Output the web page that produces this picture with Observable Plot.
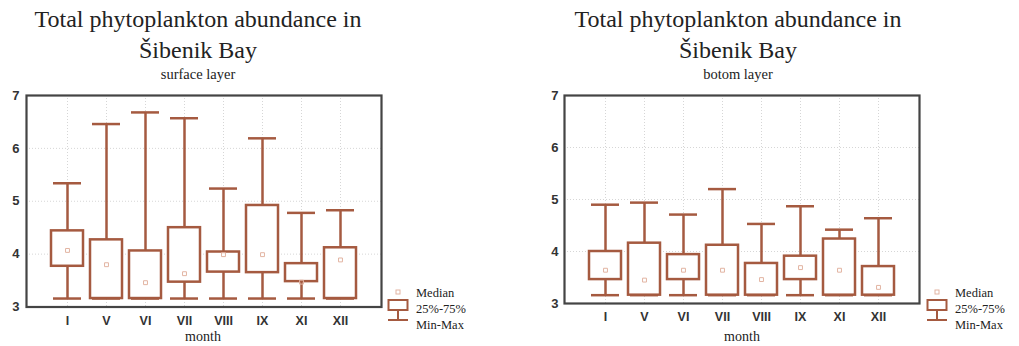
<!DOCTYPE html>
<html>
<head>
<meta charset="utf-8">
<script src="https://cdn.jsdelivr.net/npm/d3@7"></script>
<script src="https://cdn.jsdelivr.net/npm/@observablehq/plot@0.6"></script>
<style>
  html, body { margin: 0; padding: 0; background: #fff; }
  #wrap { position: relative; width: 1019px; height: 346px; overflow: hidden; background: #fff; }
  .t { position: absolute; font-family: "Liberation Serif", "Times New Roman", serif; color: #222; text-align: center; white-space: nowrap; }
  .title { font-size: 24px; line-height: 33px; }
  .sub { font-size: 14.5px; }
  .xl { font-size: 14px; line-height: 14px; }
  .leg { position: absolute; overflow: visible; }
  .leg text { font-family: "Liberation Serif", "Times New Roman", serif; font-size: 12.5px; fill: #222; }
  .chart { position: absolute; top: 0; }
</style>
</head>
<body>
<div id="wrap"></div>
<script>
// ---- data ----
const months = ["I", "V", "VI", "VII", "VIII", "IX", "XI", "XII"];
// surface layer
const surfMin    = [3.16, 3.16, 3.16, 3.16, 3.16, 3.16, 3.16, 3.16];
const surfQ1     = [3.77, 3.16, 3.16, 3.47, 3.66, 3.65, 3.48, 3.16];
const surfMedian = [4.07, 3.80, 3.46, 3.63, 3.99, 3.99, 3.47, 3.89];
const surfQ3     = [4.44, 4.27, 4.06, 4.50, 4.04, 4.92, 3.82, 4.12];
const surfMax    = [5.34, 6.46, 6.68, 6.57, 5.24, 6.19, 4.78, 4.83];
// bottom layer
const botMin    = [3.16, 3.16, 3.16, 3.16, 3.16, 3.16, 3.16, 3.16];
const botQ1     = [3.46, 3.16, 3.46, 3.16, 3.16, 3.46, 3.16, 3.16];
const botMedian = [3.64, 3.45, 3.64, 3.64, 3.46, 3.69, 3.64, 3.31];
const botQ3     = [4.00, 4.16, 3.94, 4.12, 3.77, 3.91, 4.24, 3.71];
const botMax    = [4.90, 4.94, 4.71, 5.20, 4.53, 4.87, 4.42, 4.64];
const yTicks = [3, 4, 5, 6, 7];
const titleText = ["Total phytoplankton abundance in", "Šibenik Bay"];
const subtitles = ["surface layer", "botom layer"];
const xTitle = "month";
const legendLabels = ["Median", "25%-75%", "Min-Max"];

const boxColor = "#a55a40";
const medColor = "#e2b4a2";

function rows(mn, q1, med, q3, mx) {
  return months.map((m, i) => ({month: m, min: mn[i], q1: q1[i], median: med[i], q3: q3[i], max: mx[i]}));
}

function chart(data, opts) {
  return Plot.plot({
    width: opts.width,
    height: 346,
    marginLeft: opts.ml,
    marginRight: opts.mr,
    marginTop: 95,
    marginBottom: opts.mb,
    style: {background: "transparent", overflow: "visible"},
    x: {type: "band", domain: months, paddingInner: 0.19, paddingOuter: 0.595, axis: null},
    y: {domain: [3, 7], axis: null},
    marks: [
      Plot.gridX(months, {stroke: "#bbb", strokeOpacity: 0.6, strokeDasharray: "1,2"}),
      Plot.gridY(yTicks, {stroke: "#bbb", strokeOpacity: 0.6, strokeDasharray: "1,2"}),
      Plot.ruleX(data, {x: "month", y1: "min", y2: "q1", stroke: boxColor, strokeWidth: 2.5}),
      Plot.ruleX(data, {x: "month", y1: "q3", y2: "max", stroke: boxColor, strokeWidth: 2.5}),
      Plot.tickY(data, {x: "month", y: "max", stroke: boxColor, strokeWidth: 2.5, insetLeft: 2, insetRight: 2}),
      Plot.tickY(data, {x: "month", y: "min", stroke: boxColor, strokeWidth: 2.5, insetLeft: 2, insetRight: 2}),
      Plot.barY(data, {x: "month", y1: "q1", y2: "q3", fill: "white", stroke: boxColor, strokeWidth: 2.5}),
      Plot.dot(data, {x: "month", y: "median", symbol: "square", r: 2.2, stroke: medColor, strokeWidth: 1, fill: "none"}),
      Plot.axisY(yTicks, {tickSize: 0, tickPadding: opts.ypad, tickFormat: d => String(d), fontSize: 13, fontWeight: "bold", fontFamily: "Liberation Sans, Arial, sans-serif", fill: "#333", label: null}),
      Plot.axisX({tickSize: 0, tickPadding: 9, fontSize: 12.5, fontWeight: "bold", fontFamily: "Liberation Sans, Arial, sans-serif", fill: "#333", label: null}),
      Plot.frame({stroke: "#444", strokeWidth: 2.2})
    ]
  });
}

function legendSvg() {
  const ns = "http://www.w3.org/2000/svg";
  const s = document.createElementNS(ns, "svg");
  s.setAttribute("width", 92); s.setAttribute("height", 52);
  s.innerHTML =
    `<rect x="9" y="5" width="4" height="4" fill="none" stroke="${medColor}" stroke-width="1"/>` +
    `<rect x="1.5" y="15" width="19" height="10" fill="none" stroke="${boxColor}" stroke-width="2"/>` +
    `<line x1="11" y1="26" x2="11" y2="35" stroke="${boxColor}" stroke-width="2"/>` +
    `<line x1="1" y1="35" x2="21" y2="35" stroke="${boxColor}" stroke-width="2"/>` +
    `<text x="29" y="12">${legendLabels[0]}</text>` +
    `<text x="29" y="28">${legendLabels[1]}</text>` +
    `<text x="29" y="44">${legendLabels[2]}</text>`;
  return s;
}

const wrap = document.getElementById("wrap");
function addText(cls, txt, cx, top) {
  const d = document.createElement("div");
  d.className = "t " + cls;
  d.textContent = txt;
  d.style.left = (cx - 250) + "px";
  d.style.width = "500px";
  d.style.top = top + "px";
  wrap.appendChild(d);
}

const panels = [
  {data: rows(surfMin, surfQ1, surfMedian, surfQ3, surfMax), left: 0, width: 509, ml: 26, mr: 128, mb: 39.5, ypad: 7, cx: 198, sub: subtitles[0], legX: 387, monthX: 203},
  {data: rows(botMin, botQ1, botMedian, botQ3, botMax), left: 509, width: 510, ml: 55, mr: 100, mb: 43, ypad: 6, cx: 738, sub: subtitles[1], legX: 926, monthX: 742}
];

panels.forEach(p => {
  const c = chart(p.data, p);
  c.classList.add("chart");
  c.style.left = p.left + "px";
  c.style.position = "absolute";
  wrap.appendChild(c);
  addText("title", titleText[0], p.cx, 3);
  addText("title", titleText[1], p.cx, 34);
  addText("sub", p.sub, p.cx, 66);
  addText("xl", xTitle, p.monthX, 330);
  const l = legendSvg();
  l.classList.add("leg");
  l.style.left = p.legX + "px";
  l.style.top = "285px";
  wrap.appendChild(l);
});
</script>
</body>
</html>
